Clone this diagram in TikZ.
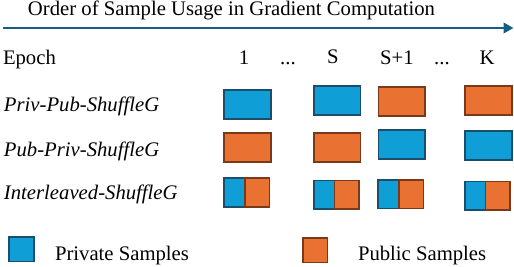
\documentclass[tikz,border=0pt]{standalone}
\usepackage{fontspec}
\setmainfont{Liberation Serif}
\usetikzlibrary{arrows.meta}
\definecolor{privfill}{HTML}{0F9ED5}
\definecolor{privline}{HTML}{1B4E6B}
\definecolor{pubfill}{HTML}{E97132}
\definecolor{publine}{HTML}{7A3A1A}
\definecolor{arrowcol}{HTML}{156082}
\tikzset{
  txt/.style={inner sep=0pt, outer sep=0pt, font=\fontsize{20.7}{24}\selectfont},
  priv/.style={draw=privline, fill=privfill, line width=1.8pt, inner sep=0pt, outer sep=0pt, rectangle, minimum width=46.5pt, minimum height=28.8pt},
  pub/.style={draw=publine, fill=pubfill, line width=1.8pt, inner sep=0pt, outer sep=0pt, rectangle, minimum width=46.5pt, minimum height=28.8pt},
  privh/.style={priv, minimum width=20.6pt, anchor=west},
  pubh/.style={pub, minimum width=24.6pt, anchor=west},
  legbox/.style={minimum width=24.8pt, minimum height=24.8pt},
}
\begin{document}
\begin{tikzpicture}[x=1pt,y=-1pt]
\useasboundingbox (0,0) rectangle (514,266);
% title and arrow
\node[txt, anchor=base] (title) at (231.5,15.5) {Order of Sample Usage in Gradient Computation};
\coordinate (arrS) at (3,28);
\coordinate (arrE) at (513.5,28);
\draw[arrowcol, line width=2.6pt, -{Triangle[length=10pt,width=10.5pt]}] (arrS) -- (arrE);
% epoch row
\node[txt, anchor=base west] (epoch) at (3,64.5) {Epoch};
\node[txt, anchor=base] (e1) at (244,64.5) {1};
\node[txt, anchor=base] (ed1) at (288,64.5) {...};
\node[txt, anchor=base] (eS) at (333,63) {S};
\node[txt, anchor=base] (eS1) at (397,64.5) {S+1};
\node[txt, anchor=base] (ed2) at (442,64.5) {...};
\node[txt, anchor=base] (eK) at (487,64.5) {K};
% row labels
\node[txt, anchor=base west] (r1) at (4,111) {\itshape Priv-Pub-ShuffleG};
\node[txt, anchor=base west] (r2) at (4,156) {\itshape Pub-Priv-ShuffleG};
\node[txt, anchor=base west] (r3) at (4,199.5) {\itshape Interleaved-ShuffleG};
% row 1
\node[priv] (a1) at (247.5,104.5) {};
\node[priv] (aS) at (337.2,100.5) {};
\node[pub] (aS1) at (401.7,101.3) {};
\node[pub] (aK) at (488.6,100.3) {};
% row 2
\node[pub] (b1) at (247.5,147.3) {};
\node[pub] (bS) at (337.2,147.3) {};
\node[priv] (bS1) at (401.7,144.2) {};
\node[priv] (bK) at (488.6,145.2) {};
% row 3
\node[privh] (c1a) at (224.2,192.7) {};
\node[pubh] (c1b) at (c1a.east) {};
\node[privh] (cSa) at (313.9,194.8) {};
\node[pubh] (cSb) at (cSa.east) {};
\node[privh] (cS1a) at (378.2,194) {};
\node[pubh] (cS1b) at (cS1a.east) {};
\node[privh] (cKa) at (464.9,195.8) {};
\node[pubh] (cKb) at (cKa.east) {};
% legend
\node[priv, legbox] (lpriv) at (21.7,249) {};
\node[txt, anchor=base west] (lprivt) at (55,260.5) {Private Samples};
\node[pub, legbox] (lpub) at (315,250) {};
\node[txt, anchor=base west] (lpubt) at (358,260.5) {Public Samples};
\end{tikzpicture}
\end{document}
